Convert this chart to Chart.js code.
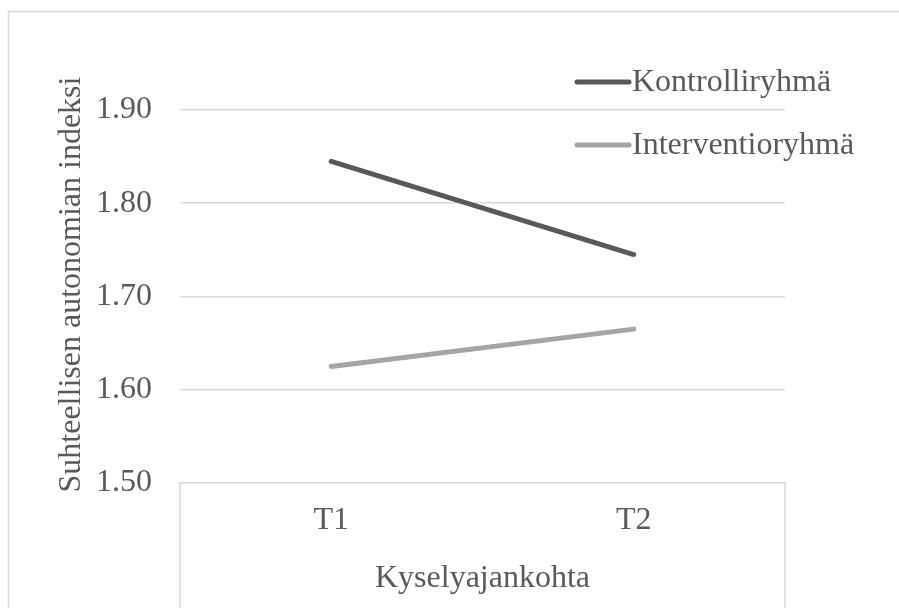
<!DOCTYPE html>
<html>
<head>
<meta charset="utf-8">
<script src="https://cdn.jsdelivr.net/npm/chart.js@4.4.1/dist/chart.umd.min.js"></script>
<style>
  html, body { margin: 0; padding: 0; background: #ffffff; }
  canvas { display: block; }
</style>
</head>
<body>
<canvas id="c" width="899" height="608"></canvas>
<script>
// ---- data ----
const categories = ['T1', 'T2'];
const seriesNames = ['Kontrolliryhmä', 'Interventioryhmä'];
const kontrolliValues = [1.845, 1.745];
const interventioValues = [1.625, 1.665];
const yTickValues = [1.50, 1.60, 1.70, 1.80, 1.90];
const yAxisTitle = 'Suhteellisen autonomian indeksi';
const xAxisTitle = 'Kyselyajankohta';

const seriesColors = ['#595959', '#a5a5a5'];
const textColor = '#595959';
const gridColor = '#d9d9d9';
const fontFamily = '"Liberation Serif", "Times New Roman", serif';
const fontSize = 32;

const framePlugin = {
  id: 'frame',
  beforeDraw(chart) {
    const ctx = chart.ctx;
    ctx.save();
    ctx.fillStyle = '#ffffff';
    ctx.fillRect(0, 0, chart.width, chart.height);
    ctx.strokeStyle = gridColor;
    ctx.lineWidth = 1.5;
    ctx.beginPath();
    ctx.moveTo(8.5, chart.height);
    ctx.lineTo(8.5, 11.5);
    ctx.lineTo(chart.width, 11.5);
    ctx.stroke();
    // category axis box lines (extending below the axis)
    const a = chart.chartArea;
    ctx.beginPath();
    ctx.moveTo(a.left, a.bottom);
    ctx.lineTo(a.left, chart.height);
    ctx.moveTo(a.right, a.bottom);
    ctx.lineTo(a.right, chart.height);
    ctx.stroke();
    ctx.restore();
  }
};

const legendPlugin = {
  id: 'customLegend',
  afterDraw(chart) {
    const ctx = chart.ctx;
    const a = chart.chartArea;
    const x0 = a.right - 210;
    const y0 = a.top - 28;
    ctx.save();
    ctx.font = fontSize + 'px ' + fontFamily;
    ctx.textBaseline = 'middle';
    ctx.textAlign = 'left';
    chart.data.datasets.forEach((ds, i) => {
      const y = y0 + i * 63;
      ctx.strokeStyle = ds.borderColor;
      ctx.lineWidth = 5;
      ctx.lineCap = 'round';
      ctx.beginPath();
      ctx.moveTo(x0 + 2, y);
      ctx.lineTo(x0 + 54, y);
      ctx.stroke();
      ctx.fillStyle = textColor;
      ctx.fillText(ds.label, x0 + 57, y + 1);
    });
    ctx.restore();
  }
};

new Chart(document.getElementById('c'), {
  type: 'line',
  data: {
    labels: categories,
    datasets: [
      { label: seriesNames[0], data: kontrolliValues, borderColor: seriesColors[0], backgroundColor: seriesColors[0],
        borderWidth: 5, borderCapStyle: 'round', pointRadius: 0, fill: false, tension: 0 },
      { label: seriesNames[1], data: interventioValues, borderColor: seriesColors[1], backgroundColor: seriesColors[1],
        borderWidth: 5, borderCapStyle: 'round', pointRadius: 0, fill: false, tension: 0 }
    ]
  },
  options: {
    responsive: false,
    animation: false,
    devicePixelRatio: 1,
    layout: { padding: { left: 0, right: 114, top: 110, bottom: 0 } },
    plugins: { legend: { display: false }, tooltip: { enabled: false } },
    scales: {
      x: {
        offset: true,
        grid: { display: true, drawOnChartArea: false, drawTicks: false },
        border: { display: true, color: gridColor, width: 1.5 },
        ticks: { color: textColor, font: { family: fontFamily, size: fontSize }, padding: 18 },
        title: { display: true, text: xAxisTitle, color: textColor,
                 font: { family: fontFamily, size: fontSize }, padding: { top: 0, bottom: 10 } },
        afterFit(scale) { scale.height = 125; }
      },
      y: {
        min: yTickValues[0],
        max: yTickValues[yTickValues.length - 1],
        afterBuildTicks(scale) { scale.ticks = yTickValues.map(v => ({ value: v })); },
        grid: { color: gridColor, lineWidth: 1.5, drawTicks: false },
        border: { display: false },
        ticks: { color: textColor, font: { family: fontFamily, size: fontSize }, padding: 28,
                 callback: (v) => Number(v).toFixed(2) },
        title: { display: true, text: '   ' + yAxisTitle, color: textColor,
                 font: { family: fontFamily, size: fontSize }, padding: { top: 52, bottom: 0 } },
        afterFit(scale) { scale.width = 180; }
      }
    }
  },
  plugins: [framePlugin, legendPlugin]
});
</script>
</body>
</html>
